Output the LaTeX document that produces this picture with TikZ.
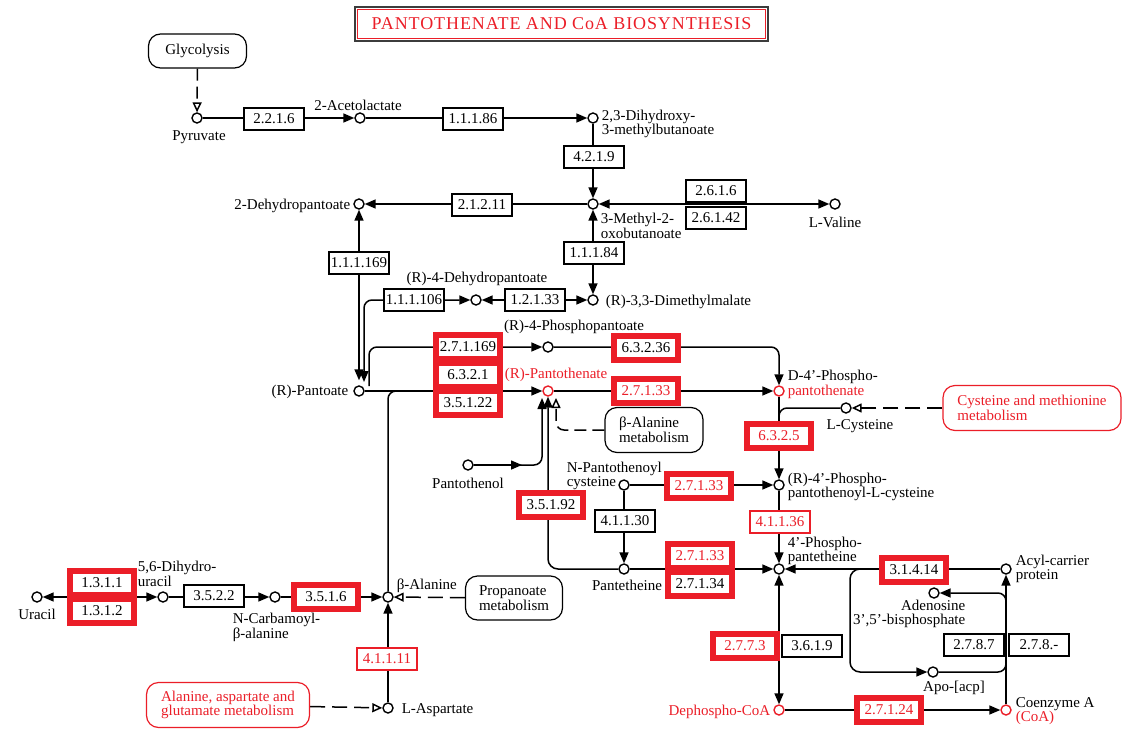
\documentclass[tikz,border=0pt]{standalone}
\usepackage{fontspec}
\setmainfont{Liberation Serif}
\newfontfamily\titlefont[LetterSpace=5]{Liberation Serif}
\usetikzlibrary{arrows.meta}
\definecolor{kred}{RGB}{235,30,40}
\definecolor{kdark}{RGB}{60,60,60}
\pgfdeclarelayer{bg}
\pgfsetlayers{bg,main}
\tikzset{
 tri/.tip={Triangle[length=11pt,width=9pt]},
 otri/.tip={Triangle[open,length=10pt,width=9pt,fill=white]},
 cpd/.style={circle,draw,fill=white,inner sep=0pt,minimum size=10pt,line width=1.4pt},
 cpdr/.style={cpd,draw=kred},
 ebox/.style={draw,fill=white,minimum width=60pt,minimum height=22pt,inner sep=0pt,line width=1.2pt},
 ehl/.style={draw=kred,line width=6pt,fill=white,minimum width=64pt,minimum height=24pt,inner sep=0pt},
 ehlr/.style={ehl,text=kred},
 ethin/.style={ebox,draw=kred,text=kred},
 pmap/.style={draw,rounded corners=12pt,fill=white,align=left,inner sep=0pt,line width=1.2pt},
 pmapr/.style={pmap,draw=kred,text=kred},
 lbl/.style={inner sep=0pt},
 dsh/.style={dash pattern=on 12pt off 6pt},
 dshl/.style={dash pattern=on 15pt off 7pt},
}
\begin{document}
\begin{tikzpicture}[x=1pt,y=-1pt,font=\fontsize{15}{13.5}\selectfont,line width=1.5pt]
\useasboundingbox (0,0) rectangle (1135,736);
% title
\node[draw=kred,line width=1.8pt,minimum width=408pt,minimum height=29pt,inner sep=0pt,text=kred,font=\titlefont\fontsize{18}{18}\selectfont] (title) at (561.5,24) {PANTOTHENATE AND CoA BIOSYNTHESIS};
\draw[line width=1.8pt,kdark] ([shift={(-1.8,-1.8)}]title.north west) rectangle ([shift={(1.8,1.8)}]title.south east);
% compounds
\node[cpd] (pyr) at (197,118) {};
\node[cpd] (acl) at (360,118) {};
\node[cpd] (dhmb) at (593,118) {};
\node[cpd] (mob) at (593,204) {};
\node[cpd] (val) at (835,204) {};
\node[cpd] (dhp) at (359,204) {};
\node[cpd] (dmm) at (593,300) {};
\node[cpd] (rdhp) at (476,300) {};
\node[cpd] (pnt) at (359,391) {};
\node[cpd] (ppnt) at (548,347) {};
\node[cpdr] (pan) at (548,391) {};
\node[cpdr] (dpp) at (779,391) {};
\node[cpd] (cys) at (846,408) {};
\node[cpd] (ppc) at (779,485) {};
\node[cpd] (npc) at (624,485) {};
\node[cpd] (pol) at (468,465) {};
\node[cpd] (ptt) at (624,569) {};
\node[cpd] (pptt) at (779,569) {};
\node[cpd] (acp) at (1006,569) {};
\node[cpd] (a35) at (934,593) {};
\node[cpd] (apo) at (933,672) {};
\node[cpdr] (dco) at (779,710) {};
\node[cpdr] (coa) at (1006,710) {};
\node[cpd] (ura) at (37,597) {};
\node[cpd] (dhu) at (163,597) {};
\node[cpd] (ncb) at (275,597) {};
\node[cpd] (bala) at (388,597) {};
\node[cpd] (asp) at (388,708) {};
% enzymes
\node[ebox] (e2216) at (274,119) {2.2.1.6};
\node[ebox] (e11186) at (473,119) {1.1.1.86};
\node[ebox] (e4219) at (594,157) {4.2.1.9};
\node[ebox] (e21211) at (482,205) {2.1.2.11};
\node[ebox] (e2616) at (716,191) {2.6.1.6};
\node[ebox] (e26142) at (716,218) {2.6.1.42};
\node[ebox] (e11184) at (594,253) {1.1.1.84};
\node[ebox] (e12133) at (535,300) {1.2.1.33};
\node[ebox] (e111106) at (414,300) {1.1.1.106};
\node[ebox] (e111169) at (359,263) {1.1.1.169};
\node[ehl] (e271169) at (468,347) {2.7.1.169};
\node[ehl] (e6321) at (468,375) {6.3.2.1};
\node[ehl] (e35122) at (468,403) {3.5.1.22};
\node[ehl] (e63236) at (646,348) {6.3.2.36};
\node[ehlr] (e27133a) at (646,391) {2.7.1.33};
\node[ehlr] (e6325) at (779,436) {6.3.2.5};
\node[ehlr] (e27133b) at (699,486) {2.7.1.33};
\node[ebox] (e41130) at (625,521) {4.1.1.30};
\node[ehl] (e35192) at (551,505) {3.5.1.92};
\node[ethin] (e41136) at (780,522) {4.1.1.36};
\node[ehlr] (e27133c) at (700,556) {2.7.1.33};
\node[ehl] (e27134) at (700,584) {2.7.1.34};
\node[ehl] (e31414) at (914,570) {3.1.4.14};
\node[ebox] (e2787) at (974,645) {2.7.8.7};
\node[ebox] (e278x) at (1039,645) {2.7.8.-};
\node[ehlr] (e2773) at (745,646) {2.7.7.3};
\node[ebox] (e3619) at (812,646) {3.6.1.9};
\node[ehlr] (e27124) at (889,710) {2.7.1.24};
\node[ehl] (e1311) at (102,583) {1.3.1.1};
\node[ehl] (e1312) at (102,611) {1.3.1.2};
\node[ebox] (e3522) at (214,596) {3.5.2.2};
\node[ehl] (e3516) at (326,597) {3.5.1.6};
\node[ethin] (e41111) at (387,659) {4.1.1.11};
% pathway maps
\node[pmap,minimum width=98pt,minimum height=34pt] (glyc) at (197.5,51) {Glycolysis};
\node[pmap,minimum width=98pt,minimum height=45pt] (bam) at (654,430) {β-Alanine\\metabolism};
\node[pmapr,minimum width=178pt,minimum height=45pt] (cmm) at (1032,408) {Cysteine and methionine\\metabolism};
\node[pmap,minimum width=97pt,minimum height=44pt] (prm) at (514,598) {Propanoate\\metabolism};
\node[pmapr,minimum width=163pt,minimum height=45pt] (aam) at (228,705) {Alanine, aspartate and\\glutamate metabolism};
% labels
\node[lbl] (lpyr) at (199,137) {Pyruvate};
\node[lbl] (lacl) at (358,105) {2-Acetolactate};
\node[lbl,anchor=west,align=left] (ldhmb) at (601,124) {2,3-Dihydroxy-\\3-methylbutanoate};
\node[lbl,anchor=west,align=left] (lmob) at (600,226) {3-Methyl-2-\\oxobutanoate};
\node[lbl] (lval) at (835,222) {L-Valine};
\node[lbl,anchor=east] (ldhp) at (351,206) {2-Dehydropantoate};
\node[lbl,anchor=west] (ldmm) at (605,302) {(R)-3,3-Dimethylmalate};
\node[lbl] (lrdhp) at (477,279) {(R)-4-Dehydropantoate};
\node[lbl,anchor=east] (lpnt) at (349,392) {(R)-Pantoate};
\node[lbl] (lppnt) at (574,327) {(R)-4-Phosphopantoate};
\node[lbl,text=kred] (lpan) at (556,375) {(R)-Pantothenate};
\node[lbl,anchor=west] (ldpp1) at (787,377) {D-4'-Phospho-};
\node[lbl,anchor=west,text=kred] (ldpp2) at (787,392) {pantothenate};
\node[lbl] (lcys) at (860,426) {L-Cysteine};
\node[lbl] (lpol) at (468,483) {Pantothenol};
\node[lbl,anchor=west,align=left] (lnpc) at (566,476) {N-Pantothenoyl\\cysteine};
\node[lbl,anchor=west,align=left] (lppc) at (787,487) {(R)-4'-Phospho-\\pantothenoyl-L-cysteine};
\node[lbl] (lptt) at (627,585) {Pantetheine};
\node[lbl,anchor=west,align=left] (lpptt) at (787,551) {4'-Phospho-\\pantetheine};
\node[lbl,anchor=west,align=left] (lacp) at (1015,569) {Acyl-carrier\\protein};
\node[lbl,anchor=east,align=right] (la35) at (966,614) {Adenosine\\3',5'-bisphosphate};
\node[lbl] (lapo) at (954,688) {Apo-[acp]};
\node[lbl,anchor=west] (lcoa1) at (1015,704) {Coenzyme A};
\node[lbl,anchor=west,text=kred] (lcoa2) at (1015,718) {(CoA)};
\node[lbl,anchor=east,text=kred] (ldco) at (771,712) {Dephospho-CoA};
\node[lbl] (lura) at (37,614) {Uracil};
\node[lbl,anchor=west,align=left] (ldhu) at (137,574) {5,6-Dihydro-\\uracil};
\node[lbl,anchor=west,align=left] (lncb) at (232,627) {N-Carbamoyl-\\β-alanine};
\node[lbl,anchor=west] (lbala) at (396,586) {β-Alanine};
\node[lbl,anchor=west] (lasp) at (401,710) {L-Aspartate};
% helper coordinates
\coordinate (pntA) at (364,382);
\coordinate (pntC) at (369,386);
\coordinate (panS1) at (542,398);
\coordinate (panS3) at (556,398);
\coordinate (merge) at (430,391);
\coordinate (cysJ) at (779,422);
\coordinate (loopS) at (872,569);
\coordinate (loopC) at (850,620);
\coordinate (apoJ) at (1006,650);
\coordinate (a35J) at (1006,608);
\coordinate (polM) at (522,465);
% connectors
\begin{pgfonlayer}{bg}
\begin{scope}[line width=1.5pt]
\draw[dsh,-otri] (glyc) -- (pyr);
\draw[-tri] (pyr) -- (acl);
\draw[-tri] (acl) -- (dhmb);
\draw[-tri] (dhmb) -- (mob);
\draw[tri-tri] (mob) -- (val);
\draw[-tri] (mob) -- (dhp);
\draw[tri-tri] (mob) -- (dmm);
\draw[tri-tri] (dmm) -- (rdhp);
\draw[tri-tri,shorten >=5pt] (dhp) -- (pnt);
\draw[rounded corners=8pt,tri-tri] (pntA) |- (rdhp);
\draw[rounded corners=8pt,-tri] (pntC) |- (ppnt);
\draw[rounded corners=8pt,-tri] (ppnt) -| (dpp);
\draw[-tri] (pnt) -- (pan);
\draw[rounded corners=8pt] (bala) |- (merge);
\draw[-tri] (pan) -- (dpp);
\draw[rounded corners=8pt,-tri] (pol) -| (panS1);
\draw[-tri] (pol) -- (polM);
\draw[rounded corners=10pt,-tri] (ptt) -| (pan);
\draw[dsh,rounded corners=8pt,-otri] (bam) -| (panS3);
\draw[-tri] (dpp) -- (ppc);
\draw[rounded corners=8pt] (cys) -| (cysJ);
\draw[dshl,-otri] (cmm) -- (cys);
\draw[-tri] (npc) -- (ppc);
\draw[-tri] (npc) -- (ptt);
\draw[-tri] (ptt) -- (pptt);
\draw[-tri] (ppc) -- (pptt);
\draw[-tri] (acp) -- (pptt);
\draw[rounded corners=10pt,-tri] (loopS) -| (loopC) |- (apo);
\draw[-tri] (coa) -- (acp);
\draw[rounded corners=8pt] (apo) -| (apoJ);
\draw[rounded corners=8pt,-tri] (a35J) |- (a35);
\draw[tri-tri] (pptt) -- (dco);
\draw[-tri] (dco) -- (coa);
\draw[tri-tri] (dhu) -- (ura);
\draw[-tri] (dhu) -- (ncb);
\draw[-tri] (ncb) -- (bala);
\draw[dshl,-otri] (prm) -- (bala);
\draw[-tri] (asp) -- (bala);
\draw[dshl,-otri] (aam) -- (asp);
\end{scope}
\end{pgfonlayer}
\end{tikzpicture}
\end{document}
